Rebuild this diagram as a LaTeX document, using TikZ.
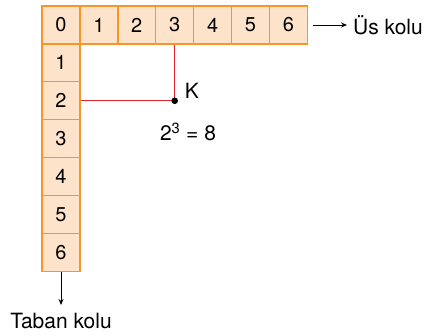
\documentclass[tikz,border=0pt]{standalone}
\usepackage{fontspec}
\setmainfont{TeX Gyre Heros}
\usetikzlibrary{positioning,calc,arrows.meta}
\definecolor{cellfill}{RGB}{253,227,201}
\definecolor{celledge}{RGB}{246,150,40}
\definecolor{kred}{RGB}{228,32,44}
\tikzset{
  cell/.style={rectangle, draw=celledge, fill=cellfill, line width=1.3pt, minimum size=37.9pt, inner sep=0pt, font=\fontsize{20}{22}\selectfont},
  caption/.style={font=\fontsize{21}{24}\selectfont, inner sep=0pt},
  path/.style={draw=kred, line width=1.3pt},
  pointer/.style={draw=black, line width=0.8pt, -{Stealth[length=6pt,width=5pt]}}
}

\begin{document}
\begin{tikzpicture}[x=1pt, y=-1pt]
  \useasboundingbox (0,0) rectangle (426,336);
  % exponent row
  \foreach \i in {0,...,6}
    \node[cell] (u\i) at ({61+37.9*\i},25) {\i};
  % base column
  \foreach \j in {1,...,6}
    \node[cell] (t\j) at (61,{25+37.9*\j}) {\j};
  % arrows and their labels
  \node[caption, anchor=west] (us) at (353,25) {Üs kolu};
  \draw[pointer] ($(u6.east)+(5pt,0)$) -- ($(us.west)+(-6pt,0)$);
  \node[caption, anchor=north] (taban) at (61,313) {Taban kolu};
  \draw[pointer] (t6.south) -- ($(taban.north)+(0,8pt)$);
  % reading off the value
  \coordinate (k) at (u3.south |- t2.east);
  \draw[path] (u3.south) -- (k) -- (t2.east);
  \fill (k) circle (3.3pt);
  \node[caption, anchor=base west] (klabel) at ($(k)+(10pt,2pt)$) {K};
  \node[caption, anchor=center] (value) at (188,132) {2\textsuperscript{3} = 8};
\end{tikzpicture}
\end{document}
